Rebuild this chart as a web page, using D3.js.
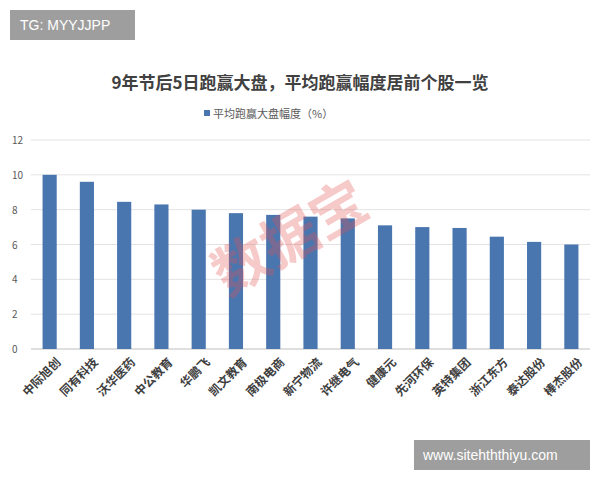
<!DOCTYPE html>
<html><head><meta charset="utf-8">
<script src="https://cdn.jsdelivr.net/npm/d3@7"></script>
<style>body{margin:0;background:#fff}svg{font-family:"Noto Sans CJK SC",sans-serif}</style>
</head><body><svg id="c" width="600" height="480"></svg>
<script>
const categories=["中际旭创","同有科技","沃华医药","中公教育","华鹏飞","凯文教育","南极电商","新宁物流","许继电气","健康元","先河环保","英特集团","浙江东方","泰达股份","棒杰股份"];
const values=[10.0,9.6,8.45,8.3,8.0,7.8,7.7,7.6,7.5,7.1,7.0,6.95,6.45,6.15,6.0];
const yTicks=[0,2,4,6,8,10,12];
const svg=d3.select("#c");
const L=31,R=590,T=140,B=349;
const x=d3.scaleBand().domain(categories).range([L,R]).paddingInner(0.62).paddingOuter(0.31);
const y=d3.scaleLinear().domain([0,12]).range([B,T]);
svg.append("g").selectAll("line").data(yTicks).join("line")
 .attr("x1",L).attr("x2",R).attr("y1",d=>y(d)).attr("y2",d=>y(d))
 .attr("stroke",d=>d===0?"#bfbfbf":"#e3e3e3").attr("stroke-width",1);
svg.append("g").selectAll("text").data(yTicks).join("text")
 .attr("x",12).attr("y",d=>y(d)+4).attr("font-size",10).attr("fill","#595959").text(d=>d);
svg.append("g").selectAll("rect").data(values).join("rect")
 .attr("x",(d,i)=>x(categories[i])).attr("width",x.bandwidth())
 .attr("y",d=>y(d)).attr("height",d=>B-y(d)).attr("fill","#4a76b0");
svg.append("g").selectAll("text").data(categories).join("text")
 .attr("transform",d=>`translate(${x(d)+x.bandwidth()/2+6},${B+8}) rotate(-45)`)
 .attr("text-anchor","end").attr("dy","0.7em").attr("font-size",12).attr("font-weight","bold").attr("fill","#404040").text(d=>d);
svg.append("text").attr("x",300).attr("y",89).attr("text-anchor","middle").attr("font-size",17).attr("font-weight","bold").attr("fill","#404040").text("9年节后5日跑赢大盘，平均跑赢幅度居前个股一览");
svg.append("rect").attr("x",204).attr("y",110).attr("width",6).attr("height",6).attr("fill","#4a76b0");
svg.append("text").attr("x",213).attr("y",118).attr("font-size",11).attr("fill","#595959").text("平均跑赢大盘幅度（%）");
svg.append("text").attr("transform","translate(300,255) rotate(-30)").attr("text-anchor","middle").attr("font-size",56).attr("font-weight","bold").attr("fill","rgba(230,80,80,0.3)").text("数据宝");
svg.append("rect").attr("x",10).attr("y",10).attr("width",125).attr("height",30).attr("fill","#9e9e9e");
svg.append("text").attr("x",20).attr("y",30).attr("font-size",14).attr("fill","#fff").attr("font-family","Liberation Sans").text("TG: MYYJJPP");
svg.append("rect").attr("x",414).attr("y",440).attr("width",176).attr("height",30).attr("fill","#9e9e9e");
svg.append("text").attr("x",423).attr("y",460).attr("font-size",14).attr("fill","#fff").attr("font-family","Liberation Sans").text("www.sitehththiyu.com");
</script></body></html>
